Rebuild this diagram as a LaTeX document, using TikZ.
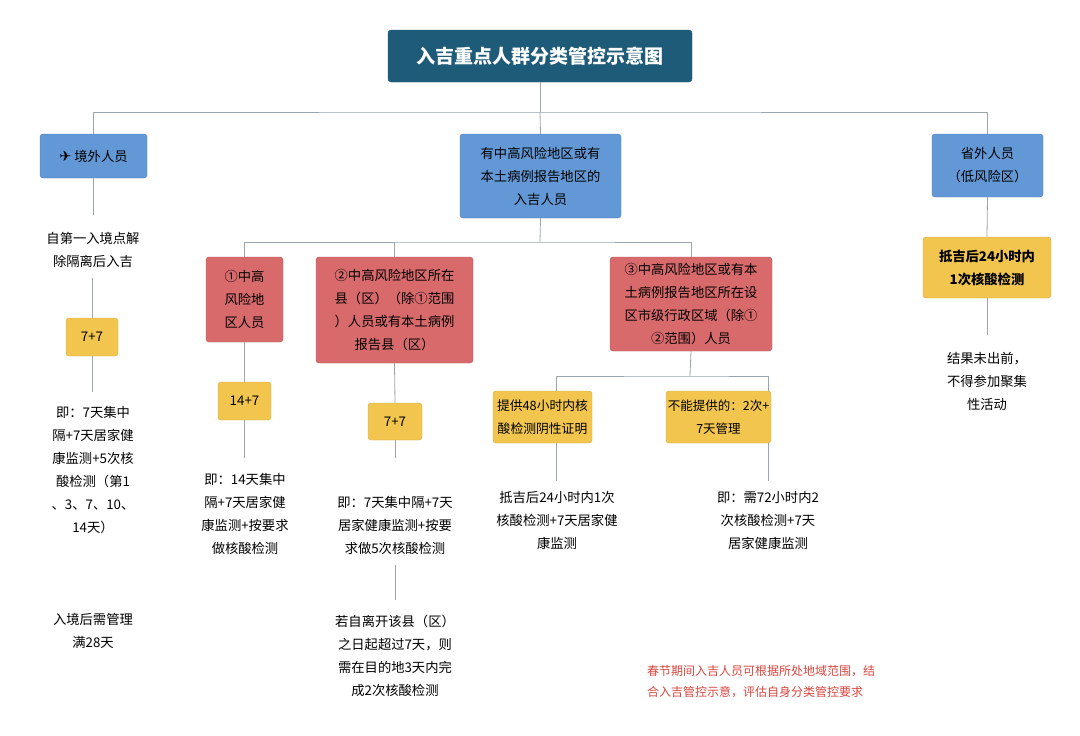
\documentclass[tikz,border=0pt]{standalone}
\usepackage{fontspec}
\setmainfont{Noto Sans CJK SC}
\newfontfamily\symfont{DejaVu Sans}
\usetikzlibrary{positioning,calc}
\definecolor{titlec}{HTML}{1D5B78}
\definecolor{bluec}{HTML}{6398D6}
\definecolor{redc}{HTML}{D96A6C}
\definecolor{yelc}{HTML}{F2C64E}
\definecolor{linec}{HTML}{9AA5AE}
\definecolor{notec}{HTML}{D8453E}
\tikzset{
  box/.style={rounded corners=3pt, align=center, inner sep=2pt, font=\fontsize{13.3}{23}\selectfont},
  bluebox/.style={box, fill=bluec, draw=bluec!80!black},
  redbox/.style={box, fill=redc, draw=redc!80!black},
  yelbox/.style={box, fill=yelc, draw=yelc!85!black},
  txt/.style={align=center, font=\fontsize{13.3}{23}\selectfont, inner sep=1pt},
  link/.style={draw=linec, line width=0.8pt}
}
\begin{document}
\begin{tikzpicture}[x=1pt,y=-1pt]
\useasboundingbox[fill=white] (0,0) rectangle (1080,736);

% title
\node[box, fill=titlec, draw=titlec, text=white, minimum width=304pt, minimum height=52pt,
  font=\fontsize{19}{22}\selectfont\bfseries] (title) at (540,56) {入吉重点人群分类管控示意图};

% first level
\node[bluebox, minimum width=107pt, minimum height=44pt] (abroad) at (93.5,156) {{\symfont\Large ✈}\ 境外人员};
\node[bluebox, minimum width=161pt, minimum height=84pt] (risk) at (540.5,176) {有中高风险地区或有\\本土病例报告地区的\\入吉人员};
\node[bluebox, minimum width=111pt, minimum height=63pt] (low) at (987.5,165.5) {省外人员\\（低风险区）};

\coordinate (bus) at (540,112);
\draw[link] (title.south) -- (bus);
\draw[link] (abroad.north) |- (bus) -| (low.north);
\draw[link] (risk.north) -- (bus);

% abroad column
\node[txt] (a1) at (93,250) {自第一入境点解\\除隔离后入吉};
\node[yelbox, minimum width=52pt, minimum height=38pt] (a2) at (92,337) {7+7};
\node[txt] (a3) at (93,470) {即：7天集中\\隔+7天居家健\\康监测+5次核\\酸检测（第1\\、3、7、10、\\14天）};
\node[txt] (a4) at (93,631) {入境后需管理\\满28天};
\draw[link] (abroad.south) -- ++(0,37);
\draw[link] (92,278) -- (a2.north);
\draw[link] (a2.south) -- ++(0,36);

% risk groups
\node[redbox, minimum width=77pt, minimum height=85pt] (r1) at (244.5,299.5) {①中高\\风险地\\区人员};
\node[redbox, minimum width=157pt, minimum height=106pt] (r2) at (394.5,310) {②中高风险地区所在\\县（区）（除①范围\\）人员或有本土病例\\报告县（区）};
\node[redbox, minimum width=162pt, minimum height=94pt] (r3) at (691,304) {③中高风险地区或有本\\土病例报告地区所在设\\区市级行政区域（除①\\②范围）人员};
\coordinate (bus2) at (540,242);
\draw[link] (risk.south) -- (bus2);
\draw[link] (r1.north) |- (bus2) -| (r3.north);
\draw[link] (r2.north) -- (r2.north |- bus2);

% group 1
\node[yelbox, minimum width=53pt, minimum height=38pt] (g1) at (244.5,401) {14+7};
\node[txt] (g1t) at (245,514) {即：14天集中\\隔+7天居家健\\康监测+按要求\\做核酸检测};
\draw[link] (r1.south) -- (g1.north);
\draw[link] (g1.south) -- ++(0,38);

% group 2
\node[yelbox, minimum width=54pt, minimum height=37pt] (g2) at (395,421.5) {7+7};
\node[txt] (g2t) at (395,525) {即：7天集中隔+7天\\居家健康监测+按要\\求做5次核酸检测};
\node[txt] (g2n) at (395,656) {若自离开该县（区）\\之日起超过7天，则\\需在目的地3天内完\\成2次核酸检测};
\draw[link] (r2.south) -- (g2.north);
\draw[link] (g2.south) -- ++(0,18);
\draw[link] (395,565) -- ++(0,35);

% group 3
\node[yelbox, minimum width=99pt, minimum height=52pt, font=\fontsize{12.8}{23}\selectfont] (g3a) at (542.5,417) {提供48小时内核\\酸检测阴性证明};
\node[yelbox, minimum width=105pt, minimum height=52pt, inner sep=1pt, font=\fontsize{12.5}{23}\selectfont] (g3b) at (718.5,417) {不能提供的：2次+\\7天管理};
\node[txt] (g3at) at (557,520) {抵吉后24小时内1次\\核酸检测+7天居家健\\康监测};
\node[txt] (g3bt) at (768,520) {即：需72小时内2\\次核酸检测+7天\\居家健康监测};
\coordinate (bus3) at (690,376);
\draw[link] (r3.south) -- (bus3);
\draw[link] (556,391) |- (bus3) -| (768,391);
\draw[link] (556,443) -- ++(0,38);
\draw[link] (768,443) -- ++(0,38);

% low risk column
\node[yelbox, minimum width=128pt, minimum height=61pt, font=\fontsize{13.3}{23}\selectfont\bfseries] (c1) at (987,267.5) {抵吉后24小时内\\1次核酸检测};
\node[txt] (c2) at (987,381) {结果未出前，\\不得参加聚集\\性活动};
\draw[link] (low.south) -- (c1.north);
\draw[link] (c1.south) -- ++(0,37);

% note
\node[txt, align=left, anchor=west, text=notec, font=\fontsize{12}{21}\selectfont] (note) at (646,682) {春节期间入吉人员可根据所处地域范围，结\\合入吉管控示意，评估自身分类管控要求};
\end{tikzpicture}
\end{document}
